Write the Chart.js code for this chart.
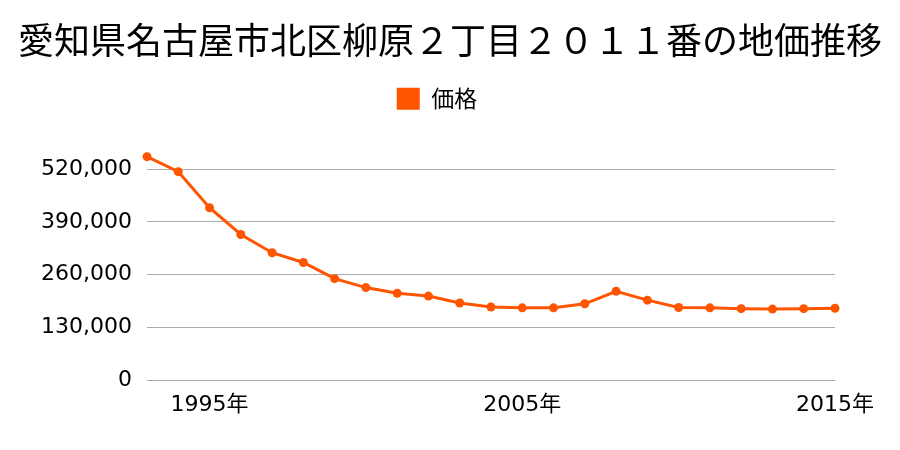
<!DOCTYPE html>
<html>
<head>
<meta charset="utf-8">
<script src="https://cdn.jsdelivr.net/npm/chart.js@4.4.1/dist/chart.umd.min.js"></script>
<style>
  html, body { margin: 0; padding: 0; background: #fff; }
  #wrap { width: 900px; height: 450px; }
</style>
</head>
<body>
<div id="wrap"><canvas id="landChart" width="900" height="450"></canvas></div>
<script>
const TITLE = "愛知県名古屋市北区柳原２丁目２０１１番の地価推移";
const SERIES_LABEL = "価格";
const YEARS = ["1993", "1994", "1995", "1996", "1997", "1998", "1999", "2000", "2001", "2002", "2003", "2004",
  "2005", "2006", "2007", "2008", "2009", "2010", "2011", "2012", "2013", "2014", "2015"];
const PRICES = [551000, 514000, 425000, 359000, 314000, 290000, 250000, 228000, 214000, 207000, 190000, 180000,
  178000, 178000, 188000, 219000, 197000, 179000, 178000, 176000, 175000, 176000, 177000];
const SHOWN_YEARS = ["1995", "2005", "2015"];
const Y_TICKS = [0, 130000, 260000, 390000, 520000];

const ORANGE = "#ff5500";
const NUM_FONT = "'DejaVu Sans', 'Noto Sans CJK JP', sans-serif";
const JP_FONT = "'Noto Sans CJK JP', sans-serif";

// legend sits a little left of centre in the original
const legendShift = {
  id: "legendShift",
  afterLayout(chart) {
    chart.legend.left -= 13;
    chart.legend.right -= 13;
  },
};

new Chart(document.getElementById("landChart"), {
  type: "line",
  data: {
    labels: YEARS,
    datasets: [{
      label: SERIES_LABEL,
      data: PRICES,
      borderColor: ORANGE,
      backgroundColor: ORANGE,
      borderWidth: 3,
      pointRadius: 4.5,
      pointHoverRadius: 4.5,
      pointBackgroundColor: ORANGE,
      pointBorderWidth: 0,
      tension: 0,
      clip: false,
    }],
  },
  plugins: [legendShift],
  options: {
    responsive: false,
    animation: false,
    layout: { padding: 0 },
    plugins: {
      title: {
        display: true,
        text: TITLE,
        color: "#000",
        font: { family: JP_FONT, size: 36, weight: "normal" },
        padding: { top: 19, bottom: 10 },
      },
      legend: {
        labels: {
          color: "#000",
          font: { family: JP_FONT, size: 23 },
          boxWidth: 23,
          boxHeight: 22,
          padding: 15,
          generateLabels: () => [{
            text: SERIES_LABEL,
            fillStyle: ORANGE,
            strokeStyle: ORANGE,
            lineWidth: 0,
            datasetIndex: 0,
          }],
        },
      },
      tooltip: { enabled: false },
    },
    scales: {
      x: {
        offset: false,
        afterFit: (scale) => { scale.height = 70; },
        grid: { display: false, drawTicks: false },
        border: { display: false },
        ticks: {
          color: "#000",
          font: { family: NUM_FONT, size: 22 },
          padding: 12,
          autoSkip: false,
          maxRotation: 0,
          callback: function (val, i) {
            const y = YEARS[i];
            return SHOWN_YEARS.includes(y) ? y + "年" : "";
          },
        },
      },
      y: {
        min: 0,
        max: 641000,
        afterBuildTicks: (scale) => { scale.ticks = Y_TICKS.map((v) => ({ value: v })); },
        afterFit: (scale) => { scale.width = 147; },
        grid: { color: "#aaaaaa", lineWidth: 1, drawTicks: false },
        border: { display: false },
        ticks: {
          color: "#000",
          font: { family: NUM_FONT, size: 22 },
          padding: 15,
          callback: (v) => v.toLocaleString("en-US"),
        },
      },
      // empty right-hand axis that only reserves the right margin
      yRight: {
        position: "right",
        display: true,
        afterFit: (scale) => { scale.width = 65; },
        grid: { display: false, drawTicks: false },
        border: { display: false },
        ticks: { display: false },
      },
    },
  },
});
</script>
</body>
</html>
